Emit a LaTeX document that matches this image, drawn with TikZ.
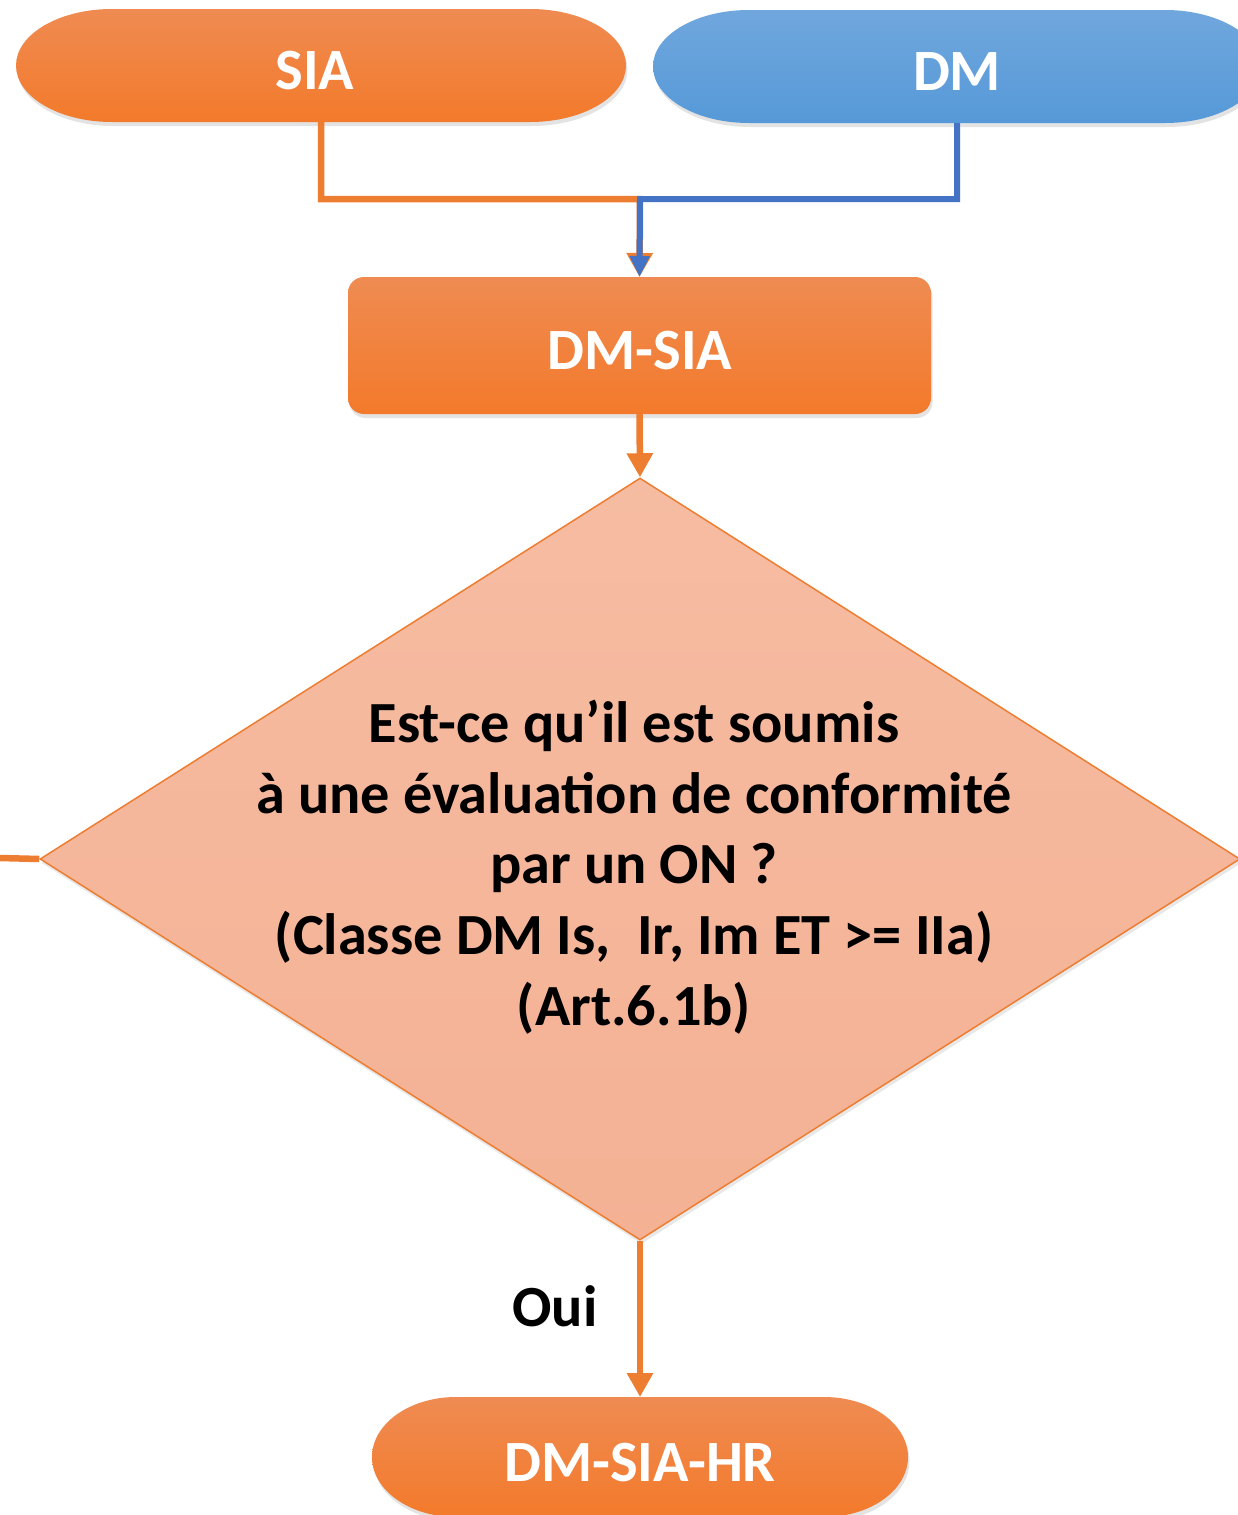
\documentclass[tikz,border=0pt]{standalone}
\usepackage{fontspec}
\setmainfont{Carlito}
\usetikzlibrary{shapes.geometric,arrows.meta,shadows}
\definecolor{orTop}{HTML}{EF8B52}
\definecolor{orBot}{HTML}{F37A2B}
\definecolor{orLine}{HTML}{ED7D31}
\definecolor{blTop}{HTML}{70A7DD}
\definecolor{blBot}{HTML}{5699D8}
\definecolor{blLine}{HTML}{4472C4}
\definecolor{dmTop}{HTML}{F6BCA2}
\definecolor{dmBot}{HTML}{F4B194}
\newcommand\termshape[4]{%
  \path[#4] ([xshift=#2]#1.north west) -- ([xshift=-#2]#1.north east)
    arc[start angle=90,end angle=-90,x radius=#2,y radius=#3]
    -- ([xshift=#2]#1.south west)
    arc[start angle=270,end angle=90,x radius=#2,y radius=#3] -- cycle;}
\tikzset{
  x=1pt,y=1pt,
  holder/.style={rectangle,inner sep=0pt,outer sep=0pt},
  orfill/.style={top color=orTop,bottom color=orBot,
    drop shadow={opacity=0.22,shadow xshift=1.5pt,shadow yshift=-4pt}},
  blfill/.style={top color=blTop,bottom color=blBot,
    drop shadow={opacity=0.22,shadow xshift=1.5pt,shadow yshift=-4pt}},
  lab/.style={inner sep=0pt,text=white,font=\fontsize{58.5}{70}\selectfont\bfseries},
  blab/.style={inner sep=0pt,text=black,font=\fontsize{58.3}{70.8}\selectfont\bfseries},
  orline/.style={draw=orLine,line width=6.5pt},
  blline/.style={draw=blLine,line width=6pt},
  tip/.style={-{Triangle[width=25pt,length=24pt]}},
}
\begin{document}
\begin{tikzpicture}
\clip (0,0) rectangle (1238,-1515);
\fill[white] (0,0) rectangle (1238,-1515);
\coordinate (j) at (640,-199);
\coordinate (lend) at (0,-858);
% shapes
\node[holder,minimum width=610pt,minimum height=113pt] (sia) at (321,-65.5) {};
\termshape{sia}{96pt}{56.5pt}{orfill}
\node[holder,minimum width=608pt,minimum height=113pt] (dm) at (957,-66.5) {};
\termshape{dm}{96pt}{56.5pt}{blfill}
\node[holder,minimum width=583pt,minimum height=137pt,rounded corners=16pt,
  orfill] (dmsia) at (639.5,-345.5) {};
\node[diamond,inner sep=0pt,minimum width=1200pt,minimum height=762pt,
  draw=orLine,line width=1.5pt,top color=dmTop,bottom color=dmBot,
  drop shadow={opacity=0.18,shadow xshift=1.5pt,shadow yshift=-4pt}] (q) at (640,-859) {};
\node[holder,minimum width=536pt,minimum height=120pt] (hr) at (640,-1457) {};
\termshape{hr}{84pt}{60pt}{orfill}
% texts
\node[lab] (siat) at (315,-71) {SIA};
\node[lab] (dmt) at (957,-72) {DM};
\node[lab] (dmsiat) at (640,-351) {DM-SIA};
\node[lab] (hrt) at (640,-1463) {DM-SIA-HR};
\node[blab,align=center] (qt) at (634,-867) {Est-ce qu’il est soumis\\
  à une évaluation de conformité\\ par un ON ?\\
  (Classe DM Is,\ \ Ir, Im ET >= IIa)\\ (Art.6.1b)};
\node[blab] (oui) at (555,-1306) {Oui};
% connectors
\draw[orline,tip] (sia.south) |- (j) -- (dmsia.north);
\draw[blline,-{Triangle[width=19pt,length=21pt]}] (dm.south) |- (j) -- (dmsia.north);
\draw[orline,tip] (dmsia.south) -- (q.north);
\draw[orline] (q.west) -- (lend);
\draw[orline,tip] (q.south) -- (hr.north);
\end{tikzpicture}
\end{document}
